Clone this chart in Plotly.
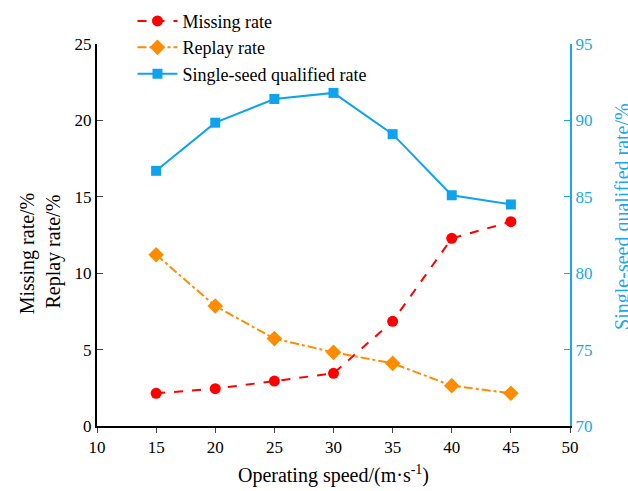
import plotly.graph_objects as go

speed = [15, 20, 25, 30, 35, 40, 45]
missing_rate = [2.14, 2.44, 2.94, 3.45, 6.85, 12.28, 13.37]
replay_rate = [11.21, 7.85, 5.72, 4.82, 4.10, 2.64, 2.14]
qualified_rate = [86.7, 89.85, 91.4, 91.8, 89.1, 85.1, 84.5]

x_ticks = [10, 15, 20, 25, 30, 35, 40, 45, 50]
left_ticks = [0, 5, 10, 15, 20, 25]
right_ticks = [70, 75, 80, 85, 90, 95]

RED = "#FF0000"
ORANGE = "#FF8C00"
BLUE = "#0FA3EE"
AXBLUE = "#1AA7E8"
FONT = "Liberation Serif"

fig = go.Figure()
fig.add_trace(go.Scatter(x=speed, y=missing_rate, name="Missing rate", mode="lines+markers",
                         line=dict(color=RED, width=2, dash="dash"),
                         marker=dict(symbol="circle", size=11, color=RED)))
fig.add_trace(go.Scatter(x=speed, y=replay_rate, name="Replay rate", mode="lines+markers",
                         line=dict(color=ORANGE, width=2, dash="dashdot"),
                         marker=dict(symbol="diamond", size=12, color=ORANGE)))
fig.add_trace(go.Scatter(x=speed, y=qualified_rate, name="Single-seed qualified rate", mode="lines+markers",
                         yaxis="y2",
                         line=dict(color=BLUE, width=2),
                         marker=dict(symbol="square", size=10, color=BLUE)))

fig.update_layout(
    width=628, height=491,
    margin=dict(l=97, r=58, t=44, b=65, autoexpand=False),
    paper_bgcolor="white", plot_bgcolor="white",
    font=dict(family=FONT, size=15, color="black"),
    showlegend=True,
    legend=dict(x=0.075, y=1.108, xanchor="left", yanchor="top",
                bgcolor="rgba(0,0,0,0)", font=dict(family=FONT, size=18),
                tracegroupgap=0, itemwidth=40),
    xaxis=dict(range=[10, 50], tickvals=x_ticks, ticks="outside", ticklen=5,
               showline=True, linecolor="black", linewidth=2, showgrid=False, zeroline=False,
               automargin=False,
               tickfont=dict(family=FONT, size=17),
               title=dict(text="Operating speed/(m·s<sup>-1</sup>)", font=dict(family=FONT, size=20), standoff=12)),
    yaxis=dict(range=[0, 25], tickvals=left_ticks, ticks="inside", ticklen=6,
               showline=True, linecolor="black", linewidth=2, showgrid=False, zeroline=False,
               automargin=False,
               tickfont=dict(family=FONT, size=17)),
    yaxis2=dict(range=[70, 95], tickvals=right_ticks, ticks="inside", ticklen=6, overlaying="y", side="right",
                showline=True, linecolor=AXBLUE, linewidth=2, showgrid=False, zeroline=False,
                automargin=False,
                tickcolor=AXBLUE, tickfont=dict(family=FONT, size=17, color=AXBLUE)),
    annotations=[
        dict(text="Missing rate/%", xref="paper", yref="paper", x=-0.145, y=0.453,
             xanchor="center", yanchor="middle",
             textangle=-90, showarrow=False, font=dict(family=FONT, size=20, color="black")),
        dict(text="Replay rate/%", xref="paper", yref="paper", x=-0.092, y=0.458,
             xanchor="center", yanchor="middle",
             textangle=-90, showarrow=False, font=dict(family=FONT, size=20, color="black")),
        dict(text="Single-seed qualified rate/%", xref="paper", yref="paper", x=1.112, y=0.55,
             xanchor="center", yanchor="middle",
             textangle=-90, showarrow=False, font=dict(family=FONT, size=20, color=AXBLUE)),
    ],
)

fig.write_html("out.html", config={"displayModeBar": False},
               post_script="document.body.style.margin='0';")
